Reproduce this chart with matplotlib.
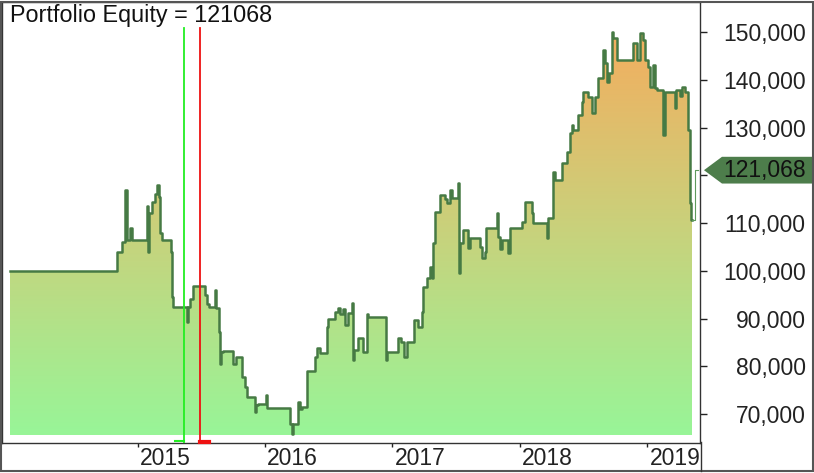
import numpy as np
import matplotlib
matplotlib.use("Agg")
import matplotlib.pyplot as plt
import matplotlib.transforms as mtrans
from matplotlib.patches import Polygon, Rectangle
from matplotlib.lines import Line2D
from matplotlib.colors import LinearSegmentedColormap
from matplotlib.ticker import FuncFormatter

plt.rcParams['font.family'] = ['Liberation Sans', 'DejaVu Sans']

# equity curve (time in fractional years, equity in thousands), step-post
t = [2014.000, 2014.839, 2014.878, 2014.902, 2014.914, 2014.941, 2014.957,
     2015.075, 2015.082, 2015.090, 2015.114, 2015.137, 2015.153, 2015.169,
     2015.176, 2015.192, 2015.263, 2015.271, 2015.278, 2015.388, 2015.396,
     2015.412, 2015.435, 2015.529, 2015.545, 2015.561, 2015.608, 2015.616,
     2015.639, 2015.647, 2015.655, 2015.671, 2015.749, 2015.773, 2015.820,
     2015.843, 2015.859, 2015.922, 2015.929, 2015.945, 2016.008, 2016.016,
     2016.196, 2016.212, 2016.220, 2016.259, 2016.275, 2016.290, 2016.329,
     2016.392, 2016.408, 2016.431, 2016.486, 2016.494, 2016.549, 2016.573,
     2016.588, 2016.612, 2016.627, 2016.651, 2016.682, 2016.690, 2016.698,
     2016.729, 2016.769, 2016.800, 2016.808, 2016.949, 2016.957, 2017.043,
     2017.067, 2017.090, 2017.114, 2017.169, 2017.200, 2017.231, 2017.239,
     2017.271, 2017.294, 2017.306, 2017.318, 2017.333, 2017.373, 2017.412,
     2017.427, 2017.451, 2017.467, 2017.514, 2017.522, 2017.529, 2017.553,
     2017.592, 2017.608, 2017.686, 2017.702, 2017.725, 2017.733, 2017.820,
     2017.827, 2017.843, 2017.859, 2017.906, 2017.922, 2018.016, 2018.039,
     2018.094, 2018.102, 2018.212, 2018.220, 2018.259, 2018.275, 2018.329,
     2018.369, 2018.392, 2018.408, 2018.416, 2018.455, 2018.486, 2018.494,
     2018.533, 2018.565, 2018.588, 2018.612, 2018.651, 2018.667, 2018.682,
     2018.698, 2018.722, 2018.729, 2018.761, 2018.886, 2018.918, 2018.941,
     2018.965, 2018.980, 2019.004, 2019.020, 2019.043, 2019.059, 2019.075,
     2019.122, 2019.137, 2019.216, 2019.224, 2019.255, 2019.271, 2019.294,
     2019.318, 2019.333, 2019.341, 2019.349]
equity_k = [100.0, 104.0, 106.0, 117.0, 106.4, 109.0, 106.4,
            113.5, 104.0, 112.0, 114.5, 116.0, 118.0, 115.5,
            108.0, 106.4, 104.0, 94.5, 92.4, 89.3, 92.4,
            94.0, 96.8, 95.0, 93.0, 92.4, 96.0, 92.2,
            87.2, 80.5, 83.0, 83.2, 80.5, 82.0, 77.8,
            75.7, 73.6, 70.5, 72.0, 72.1, 74.0, 71.3,
            68.0, 65.8, 68.0, 72.5, 71.0, 71.5, 79.0,
            82.0, 83.8, 82.8, 88.2, 90.0, 91.4, 92.2,
            91.0, 92.0, 88.6, 91.2, 93.3, 81.3, 83.4,
            86.0, 83.0, 91.0, 90.3, 81.3, 83.0, 86.0,
            85.0, 82.0, 85.0, 89.7, 88.2, 91.4, 96.6,
            98.5, 100.8, 98.5, 105.8, 112.3, 115.9, 115.0,
            114.2, 117.0, 115.2, 118.4, 99.5, 105.8, 108.5,
            104.8, 106.9, 105.0, 102.7, 104.0, 109.0, 112.0,
            107.0, 104.5, 106.4, 103.7, 109.0, 110.2, 114.4,
            112.0, 110.0, 106.9, 111.0, 120.7, 119.0, 122.6,
            124.9, 128.9, 130.5, 129.5, 132.6, 135.3, 137.4,
            136.4, 133.0, 136.4, 140.4, 146.2, 143.5, 139.5,
            141.4, 150.0, 148.7, 144.1, 147.7, 144.1, 149.8,
            148.3, 144.1, 142.7, 138.5, 143.0, 138.3, 137.9,
            128.4, 137.4, 134.0, 137.9, 136.5, 138.5, 137.5,
            129.5, 114.2, 110.6, 110.6]
last_t = [2019.349, 2019.373, 2019.373, 2019.396]
last_k = [110.6, 110.6, 121.068, 121.068]
final_equity = 121068

entry_t = 2015.365
exit_t = 2015.490

years = [2015, 2016, 2017, 2018, 2019]
yticks = [70000, 80000, 90000, 100000, 110000, 130000, 140000, 150000]
hidden_ticks = [120000]

t = np.array(t)
eq = np.array(equity_k) * 1000
base = 65600

fig = plt.figure(figsize=(8.14, 4.73), dpi=100)
W, H = 814, 473
ax = fig.add_axes([2 / W, 30 / H, 698 / W, 441 / H])

# gradient fill under the curve
poly = ax.fill_between(t, eq, base, step='post', facecolor='none', edgecolor='none')
cmap = LinearSegmentedColormap.from_list('eq', ['#98F598', '#C8D27C', '#F4AD5E'])
grad = np.linspace(0, 1, 256).reshape(-1, 1)
im = ax.imshow(grad, extent=[t[0], t[-1], base, 150500], aspect='auto',
               origin='lower', cmap=cmap, zorder=1)
im.set_clip_path(poly.get_paths()[0], transform=ax.transData)

ax.plot(t, eq, drawstyle='steps-post', color='#467A44', lw=1.8, zorder=3)
ax.plot(last_t, np.array(last_k) * 1000, color='#5E9A5C', lw=0.8, zorder=3)

# entry / exit lines
ax.axvline(entry_t, ymin=0, ymax=0.94, color='#22EE22', lw=1.3, zorder=4)
ax.axvline(exit_t, ymin=0, ymax=0.94, color='#EE1111', lw=1.3, zorder=4)
bt = ax.get_xaxis_transform()
ax.plot([entry_t - 0.07, entry_t], [0.004, 0.004], color='#22EE22', lw=1.5,
        transform=bt, clip_on=False, zorder=5)
ax.plot([exit_t, exit_t + 0.07], [0.002, 0.002], color='#EE1111', lw=3,
        transform=bt, clip_on=False, zorder=5)

ax.set_xlim(2013.937, 2019.412)
ax.set_ylim(63940, 156280)

# x axis
ax.set_xticks(years)
ax.set_xticklabels([str(y) for y in years])
ax.tick_params(axis='x', direction='out', length=3, width=1, pad=0,
               labelsize=16.5, colors='#222222')
off = mtrans.ScaledTranslation(2 / 100, 0, fig.dpi_scale_trans)
for lab in ax.get_xticklabels():
    lab.set_horizontalalignment('left')
    lab.set_transform(lab.get_transform() + off)

# y axis on the right
ax.yaxis.tick_right()
ax.set_yticks(yticks)
ax.set_yticks(hidden_ticks, minor=True)
ax.yaxis.set_major_formatter(FuncFormatter(lambda v, p: f"{int(v):,}"))
ax.tick_params(axis='y', direction='out', length=5, width=1, pad=71,
               labelsize=16.5, colors='#222222')
ax.tick_params(axis='y', which='minor', direction='out', length=5, width=1,
               colors='#222222', labelright=False)
for lab in ax.get_yticklabels():
    lab.set_horizontalalignment('right')

for s in ax.spines.values():
    s.set_color('#333333')
    s.set_linewidth(1.0)

# current value marker
yt = ax.get_yaxis_transform()
v = final_equity
box = Polygon([[1.0057, v], [1.0315, v + 2800], [1.1605, v + 2800],
               [1.1605, v - 2800], [1.0315, v - 2800]], closed=True,
              transform=yt, clip_on=False, facecolor='#4D7D4B', edgecolor='none', zorder=5)
ax.add_patch(box)
ax.text(1.1519, v, f"{final_equity:,}", transform=yt, ha='right', va='center',
        fontsize=16.5, color='#111111', clip_on=False, zorder=6)

# title
ax.text(8 / 698, 0.995, f"Portfolio Equity = {final_equity}", transform=ax.transAxes,
        ha='left', va='top', fontsize=16.8, color='#111111', zorder=6)

# outer frame and axis separator
fig.add_artist(Line2D([700.5 / W, 700.5 / W], [2 / H, 31 / H], color='#333333', lw=1.0))
fig.add_artist(Rectangle((1 / W, 2 / H), 812 / W, 469 / H, fill=False,
                         edgecolor='#555555', lw=1.5, transform=fig.transFigure))

fig.savefig('out.png', dpi=100)
